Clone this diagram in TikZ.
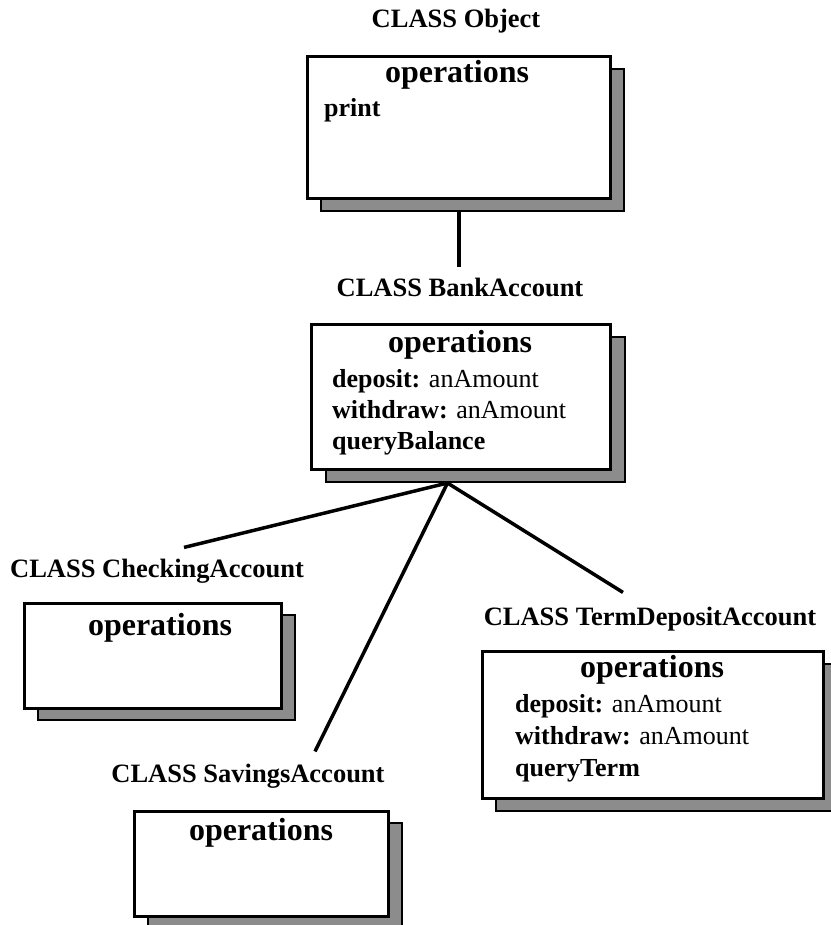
\documentclass[tikz,border=0pt]{standalone}
\usepackage{fontspec}
\setmainfont{Liberation Serif}
\usetikzlibrary{positioning, calc}
\tikzstyle{Box} = [draw, line width=3pt, fill=white, anchor=north west, inner sep=0pt]
\tikzstyle{Shadow} = [draw, line width=2pt, fill=black!45, anchor=north west, inner sep=0pt]
\tikzstyle{Label} = [font=\bfseries\fontsize{26.5}{31}\selectfont, inner sep=0pt, anchor=base]
\tikzstyle{Head} = [font=\bfseries\fontsize{32}{38}\selectfont, inner sep=0pt, anchor=base]
\tikzstyle{Ops} = [font=\fontsize{26}{31}\selectfont, inner sep=0pt, anchor=base west]
\tikzstyle{Line} = [line width=3.5pt]

\begin{document}
\begin{tikzpicture}[x=1pt, y=-1pt]
    \useasboundingbox (0,0) rectangle (830,925);

    % CLASS Object
    \node [Label] (1) at (456,28) {CLASS Object};
    \node [Shadow, minimum width=303pt, minimum height=142pt] (1sh) at (320,68) {};
    \node [Box, minimum width=303pt, minimum height=142pt] (1box) at (306,55) {};
    \node [Head] (1op) at (457,83) {operations};
    \node [Ops] (1l1) at (324,117) {\textbf{print}};

    % CLASS BankAccount
    \node [Label] (2) at (460,296) {CLASS BankAccount};
    \node [Shadow, minimum width=299pt, minimum height=145pt] (2sh) at (325,336) {};
    \node [Box, minimum width=299pt, minimum height=145pt] (2box) at (310,323) {};
    \node [Head] (2op) at (460,352) {operations};
    \node [Ops] (2l1) at (332,387) {\textbf{deposit:} anAmount};
    \node [Ops] (2l2) at (332,418) {\textbf{withdraw:} anAmount};
    \node [Ops] (2l3) at (332,449) {\textbf{queryBalance}};
    \coordinate (hub) at ([xshift=-28pt]2sh.south);

    % CLASS CheckingAccount
    \node [Label] (3) at (157,577) {CLASS CheckingAccount};
    \node [Shadow, minimum width=257pt, minimum height=105pt] (3sh) at (37,614) {};
    \node [Box, minimum width=257pt, minimum height=105pt] (3box) at (23,602) {};
    \node [Head] (3op) at (160,635) {operations};

    % CLASS SavingsAccount
    \node [Label] (4) at (248,782) {CLASS SavingsAccount};
    \node [Shadow, minimum width=254pt, minimum height=105pt] (4sh) at (147,822) {};
    \node [Box, minimum width=254pt, minimum height=105pt] (4box) at (133,810) {};
    \node [Head] (4op) at (261,840) {operations};

    % CLASS TermDepositAccount
    \node [Label] (5) at (650,625) {CLASS TermDepositAccount};
    \node [Shadow, minimum width=341pt, minimum height=147pt] (5sh) at (495,663) {};
    \node [Box, minimum width=341pt, minimum height=147pt] (5box) at (481,650) {};
    \node [Head] (5op) at (652,677) {operations};
    \node [Ops] (5l1) at (515,712) {\textbf{deposit:} anAmount};
    \node [Ops] (5l2) at (515,744) {\textbf{withdraw:} anAmount};
    \node [Ops] (5l3) at (515,776) {\textbf{queryTerm}};

    \draw[Line, shorten >=10pt] (1box.south |- 1sh.south) -- (1box.south |- 2.north);
    \draw[Line] (hub) -- ([xshift=27pt, yshift=11pt]3.north);
    \draw[Line] (hub) -- ([xshift=67pt, yshift=12pt]4.north);
    \draw[Line] (hub) -- ([xshift=-27pt, yshift=14pt]5.north);
\end{tikzpicture}
\end{document}
